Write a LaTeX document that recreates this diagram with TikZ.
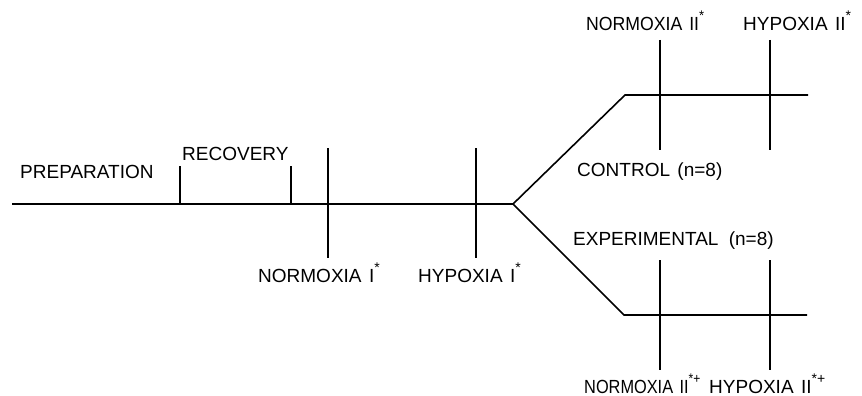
\documentclass[tikz,border=0pt]{standalone}
\usepackage{fontspec}
\setmainfont{Liberation Sans}[WordSpace=1.4]
\newcommand\mk[1]{\raisebox{0.5em}{\fontsize{14}{14}\selectfont #1}}
\newcommand\narrow[2]{\scalebox{#1}[1]{#2}}
\begin{document}
\begin{tikzpicture}[x=1pt,y=-1pt,
  lbl/.style={inner sep=0pt,anchor=west,font=\fontsize{19}{22}\selectfont},
  trunk/.style={line width=1.6pt},
  tick/.style={line width=2.3pt}]
\useasboundingbox (0,0) rectangle (862,396);
% main time line
\coordinate (start) at (12,204);
\coordinate (fork) at (513,204);
\coordinate (c0) at (625,95);
\coordinate (c1) at (808,95);
\coordinate (e0) at (624,315);
\coordinate (e1) at (807,315);
\draw[trunk] (start) -- (fork);
\draw[trunk] (fork) -- (c0) -- (c1);
\draw[trunk] (fork) -- (e0) -- (e1);
% recovery interval
\coordinate (r0t) at (180,166); \coordinate (r0b) at (180,204);
\coordinate (r1t) at (291,166); \coordinate (r1b) at (291,204);
\draw[tick] (r0t) -- (r0b);
\draw[tick] (r1t) -- (r1b);
% measurement points, first period
\coordinate (n1t) at (328,148); \coordinate (n1b) at (328,258);
\coordinate (h1t) at (476,148); \coordinate (h1b) at (476,258);
\draw[tick] (n1t) -- (n1b);
\draw[tick] (h1t) -- (h1b);
% measurement points, control group
\coordinate (cn2t) at (660,40); \coordinate (cn2b) at (660,150);
\coordinate (ch2t) at (770,40); \coordinate (ch2b) at (770,150);
\draw[tick] (cn2t) -- (cn2b);
\draw[tick] (ch2t) -- (ch2b);
% measurement points, experimental group
\coordinate (en2t) at (660,260); \coordinate (en2b) at (660,370);
\coordinate (eh2t) at (770,260); \coordinate (eh2b) at (770,370);
\draw[tick] (en2t) -- (en2b);
\draw[tick] (eh2t) -- (eh2b);
% labels
\node[lbl] (prep) at (20,172) {PREPARATION};
\node[lbl] (rec) at (182,154) {RECOVERY};
\node[lbl] (nI) at (258,273) {NORMOXIA I\mk{*}};
\node[lbl] (hI) at (418,273) {HYPOXIA I\mk{*}};
\node[lbl] (nIIc) at (586,21) {\narrow{0.93}{NORMOXIA II\mk{*}}};
\node[lbl] (hIIc) at (743,21) {HYPOXIA II\mk{*}};
\node[lbl] (ctl) at (577,172) {CONTROL (n=8)};
\node[lbl] (exp) at (573,241) {EXPERIMENTAL\hspace{0.15em} (n=8)};
\node[lbl] (nIIe) at (584,384) {\narrow{0.86}{NORMOXIA II\mk{*+}}};
\node[lbl] (hIIe) at (709,384) {HYPOXIA II\mk{*+}};
\end{tikzpicture}
\end{document}
